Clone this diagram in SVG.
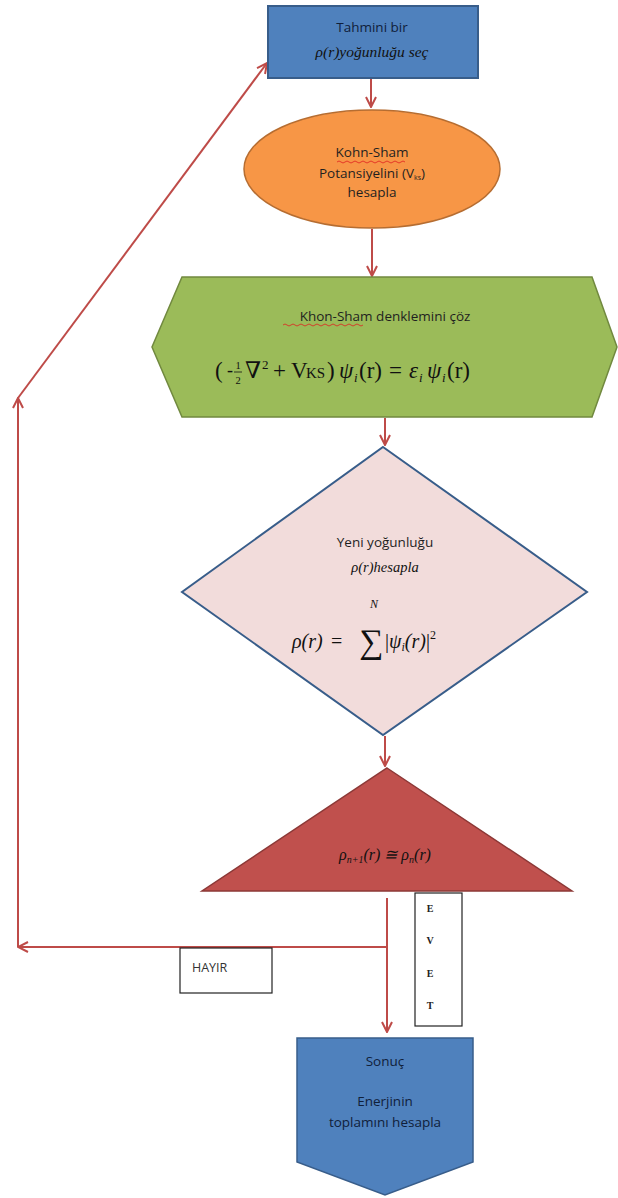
<svg xmlns="http://www.w3.org/2000/svg" width="618" height="1198" viewBox="0 0 618 1198">
<style>
.lbl{font-family:"Open Sans","Liberation Sans",sans-serif;font-size:13.5px;fill:#1f1f1f;text-anchor:middle}
.lblb{font-family:"Open Sans","Liberation Sans",sans-serif;font-size:13.5px;fill:#10203a;text-anchor:middle}
.math{font-family:"Liberation Serif","DejaVu Serif",serif;fill:#111}
.mid{text-anchor:middle}
.eq{font-family:"Liberation Serif","DejaVu Serif",serif;fill:#111;font-size:23px}
.sub{font-size:13px}
.it{font-style:italic}
.conn{fill:none;stroke:#be4b48;stroke-width:2}
.wave{fill:none;stroke:#e02020;stroke-width:0.8}
</style>
<defs>
<marker id="ah2" viewBox="0 0 12 12" refX="11" refY="6" markerWidth="12" markerHeight="12" orient="auto" markerUnits="userSpaceOnUse">
<path d="M1,1 L11,6 L1,11" fill="none" stroke="#be4b48" stroke-width="2"/>
</marker>
</defs>
<g id="connectors">
<line class="conn" x1="371" y1="79" x2="371" y2="107" marker-end="url(#ah2)"/>
<line class="conn" x1="372" y1="229" x2="372" y2="276" marker-end="url(#ah2)"/>
<line class="conn" x1="385" y1="418" x2="385" y2="445" marker-end="url(#ah2)"/>
<line class="conn" x1="385" y1="736" x2="385" y2="766" marker-end="url(#ah2)"/>
<line class="conn" x1="387" y1="898" x2="387" y2="1032" marker-end="url(#ah2)"/>
<line class="conn" x1="387" y1="947" x2="18" y2="947" marker-end="url(#ah2)"/>
<line class="conn" x1="18" y1="947" x2="18" y2="398" marker-end="url(#ah2)"/>
<line class="conn" x1="18" y1="398" x2="267" y2="63" marker-end="url(#ah2)"/>
</g>
<g id="start">
<rect x="268" y="6" width="210" height="72" fill="#4f81bd" stroke="#385d8a" stroke-width="2"/>
<text class="lblb" x="372" y="32">Tahmini bir</text>
<text class="math mid" x="372" y="57" font-size="15.5" font-style="italic" fill="#10203a">ρ(r)yoğunluğu seç</text>
</g>
<g id="kohn-sham">
<ellipse cx="372" cy="169" rx="128" ry="59" fill="#f79646" stroke="#b66d31" stroke-width="1.5"/>
<text class="lbl" x="372" y="157">Kohn-Sham</text>
<path class="wave" d="M337,162 q2,-2 4,0 t4,0 t4,0 t4,0 t4,0 t4,0 t4,0 t4,0 t4,0 t4,0 t4,0 t4,0 t4,0 t4,0 t4,0 t4,0 t4,0"/>
<text class="lbl" x="372" y="178">Potansiyelini (V<tspan font-size="7" dy="2">ks</tspan><tspan dy="-2">)</tspan></text>
<text class="lbl" x="372" y="197">hesapla</text>
</g>
<g id="solve">
<polygon points="182,277 592,277 617,347 592,417 182,417 152,347" fill="#9bbb59" stroke="#71893f" stroke-width="1.5"/>
<text class="lbl" x="385" y="321">Khon-Sham denklemini çöz</text>
<path class="wave" d="M283,325 q2,-2 4,0 t4,0 t4,0 t4,0 t4,0 t4,0 t4,0 t4,0 t4,0 t4,0 t4,0 t4,0 t4,0 t4,0 t4,0 t4,0 t4,0 t4,0 t4,0 t4,0"/>
<text class="eq" x="215" y="378">(</text>
<text class="eq" x="227" y="376" style="font-size:18px">-</text>
<text class="math mid" x="238" y="369" font-size="10.5">1</text>
<line x1="234" y1="372" x2="242" y2="372" stroke="#111" stroke-width="0.8"/>
<text class="math mid" x="238" y="384" font-size="10.5">2</text>
<text class="eq" x="245" y="378">∇</text>
<text class="eq sub" x="262" y="369">2</text>
<text class="eq" x="273" y="378">+</text>
<text class="eq" x="291" y="378">V</text>
<text class="eq" x="306" y="378" style="font-size:15px">KS</text>
<text class="eq" x="327" y="378">)</text>
<text class="eq it" x="339" y="378">ψ</text>
<text class="eq sub it" x="354" y="382">i</text>
<text class="eq" x="359" y="378">(r)</text>
<text class="eq" x="389" y="378">=</text>
<text class="eq it" x="409" y="378">ε</text>
<text class="eq sub it" x="419" y="382">i</text>
<text class="eq it" x="427" y="378">ψ</text>
<text class="eq sub it" x="442" y="382">i</text>
<text class="eq" x="447" y="378">(r)</text>
</g>
<g id="density">
<polygon points="383,447 587,592 383,735 182,592" fill="#f2dcdb" stroke="#385d8a" stroke-width="2"/>
<text class="lbl" x="385" y="547">Yeni yoğunluğu</text>
<text class="math mid" x="385" y="572" font-size="14.5" font-style="italic">ρ(r)hesapla</text>
<text class="math mid" x="374" y="608" font-size="12" font-style="italic">N</text>
<text class="math it" x="292" y="648" font-size="20">ρ(r)</text>
<text class="math" x="331" y="648" font-size="20">=</text>
<text class="math mid" x="371" y="653" font-size="34">∑</text>
<text class="math" x="385" y="648" font-size="20">|<tspan font-style="italic">ψ</tspan><tspan font-style="italic" font-size="12" dy="3">i</tspan><tspan font-style="italic" dy="-3">(r)</tspan>|<tspan font-size="12" dy="-9">2</tspan></text>
</g>
<g id="check">
<polygon points="387,768 572,891 202,891" fill="#c0504d" stroke="#8c3836" stroke-width="1.5"/>
<text class="math mid" x="385" y="860" font-size="16" font-style="italic" fill="#3a1010">ρ<tspan font-size="10" dy="3">n+1</tspan><tspan dy="-3">(r) ≅ ρ</tspan><tspan font-size="10" dy="3">n</tspan><tspan dy="-3">(r)</tspan></text>
</g>
<g id="hayir">
<rect x="180" y="948" width="92" height="45" fill="#fff" stroke="#222" stroke-width="1.2"/>
<text x="192" y="972" font-family="'Open Sans','Liberation Sans',sans-serif" font-size="12.5" fill="#333">HAYIR</text>
</g>
<g id="evet">
<rect x="415" y="893" width="47" height="133" fill="#fff" stroke="#222" stroke-width="1.2"/>
<g font-family="'Liberation Serif',serif" font-size="10" font-weight="bold" fill="#222" text-anchor="middle">
<text x="430" y="912">E</text>
<text x="430" y="944">V</text>
<text x="430" y="977">E</text>
<text x="430" y="1009">T</text>
</g>
</g>
<g id="result">
<polygon points="297,1038 473,1038 473,1162 385,1195 297,1162" fill="#4f81bd" stroke="#385d8a" stroke-width="1.5"/>
<text class="lblb" x="385" y="1066">Sonuç</text>
<text class="lblb" x="385" y="1106">Enerjinin</text>
<text class="lblb" x="385" y="1127">toplamını hesapla</text>
</g>
</svg>
